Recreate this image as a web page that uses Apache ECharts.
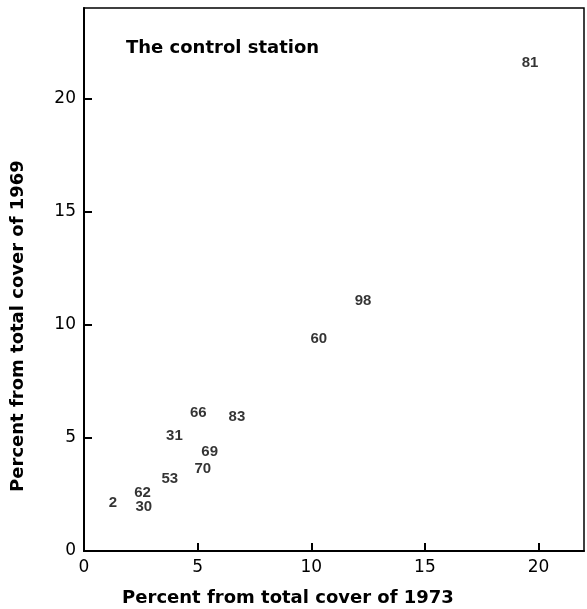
<!DOCTYPE html>
<html>
<head>
<meta charset="utf-8">
<script src="https://cdn.jsdelivr.net/npm/echarts@6/dist/echarts.min.js"></script>
<style>
  html, body { margin: 0; padding: 0; background: #fff; }
  #chart { width: 587px; height: 609px; }
</style>
</head>
<body>
<div id="chart"></div>
<script>
// species numbers, shown as the marks themselves
const speciesIds = ['81', '98', '60', '66', '83', '31', '69', '70', '53', '62', '2', '30'];
// percent from total cover, 1973 (x) and 1969 (y)
const cover1973 = [19.65, 12.3, 10.35, 5.05, 6.75, 4.0, 5.55, 5.25, 3.8, 2.6, 1.3, 2.65];
const cover1969 = [21.55, 11.05, 9.35, 6.1, 5.9, 5.05, 4.35, 3.6, 3.15, 2.55, 2.1, 1.95];

const chart = echarts.init(document.getElementById('chart'));

const axisFont = { color: '#000', fontSize: 17, fontFamily: 'DejaVu Sans' };
const nameFont = { fill: '#000', fontSize: 18, fontWeight: 'bold', fontFamily: 'DejaVu Sans',
                   align: 'center', verticalAlign: 'middle' };

chart.setOption({
    animation: false,
    backgroundColor: '#fff',
    grid: {
        left: 84, right: 3, top: 8, bottom: 58,
        outerBoundsMode: 'none',
        containLabel: false,
        show: true, borderColor: '#000', borderWidth: 1.5
    },
    title: {
        text: 'The control station',
        left: 121, top: 34,
        textStyle: { color: '#000', fontSize: 18, fontWeight: 'bold', fontFamily: 'DejaVu Sans' }
    },
    // axis titles sit off-centre in the original, so they are placed by hand
    graphic: [
        { type: 'text', x: 288, y: 598, style: Object.assign({ text: 'Percent from total cover of 1973' }, nameFont) },
        { type: 'text', x: 18, y: 326, rotation: Math.PI / 2,
          style: Object.assign({ text: 'Percent from total cover of 1969' }, nameFont) }
    ],
    xAxis: {
        type: 'value', min: 0, max: 22, interval: 5,
        axisLine: { lineStyle: { color: '#000', width: 2 } },
        axisTick: { inside: true, length: 8, lineStyle: { color: '#000', width: 2 } },
        axisLabel: Object.assign({ margin: 8, showMaxLabel: false }, axisFont),
        splitLine: { show: false }
    },
    yAxis: {
        type: 'value', min: 0, max: 24, interval: 5,
        axisLine: { lineStyle: { color: '#000', width: 2 } },
        axisTick: { inside: true, length: 8, lineStyle: { color: '#000', width: 2 } },
        axisLabel: Object.assign({ margin: 8, showMaxLabel: false }, axisFont),
        splitLine: { show: false }
    },
    series: [{
        type: 'scatter',
        symbolSize: 1,
        itemStyle: { color: 'transparent' },
        data: cover1973.map((x, i) => ({ name: speciesIds[i], value: [x, cover1969[i]] })),
        label: {
            show: true,
            position: [0, 0],
            align: 'center',
            verticalAlign: 'middle',
            formatter: p => p.name,
            color: '#000',
            textBorderWidth: 0,
            fontSize: 15,
            fontWeight: 'bold',
            fontFamily: 'Liberation Sans'
        }
    }]
});
</script>
</body>
</html>
